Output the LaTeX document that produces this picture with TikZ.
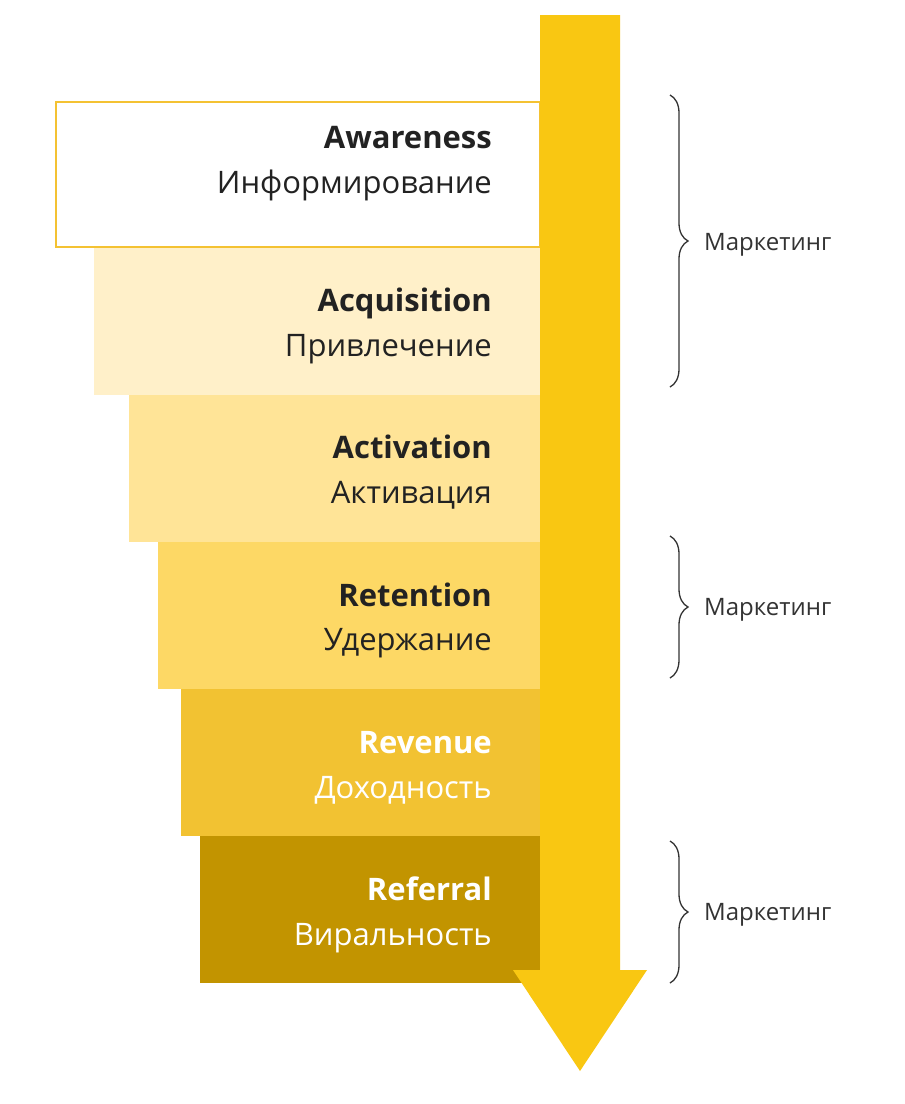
\documentclass[tikz,border=0pt]{standalone}
\usepackage{fontspec}
\setmainfont{Open Sans}
\usetikzlibrary{decorations.pathreplacing}
\definecolor{arrowY}{HTML}{F9C712}
\definecolor{borderY}{HTML}{F4C232}
\definecolor{cA}{HTML}{FFF0C9}
\definecolor{cB}{HTML}{FFE497}
\definecolor{cC}{HTML}{FDD865}
\definecolor{cD}{HTML}{F2C232}
\definecolor{cE}{HTML}{C29400}
\definecolor{txt}{HTML}{222222}
\definecolor{gray3}{HTML}{333333}
\tikzset{
  stage/.style={rectangle, inner sep=0pt, outer sep=0pt, anchor=north west},
  ttl/.style={anchor=base east, inner sep=0pt, font=\fontsize{31}{36}\selectfont\bfseries},
  sub/.style={anchor=base east, inner sep=0pt, font=\fontsize{31}{36}\selectfont},
  bracedeco/.style={draw=gray3, line width=1.3pt, decorate, decoration={brace, amplitude=18pt, aspect=0.5}},
  mlabel/.style={anchor=base west, inner sep=0pt, text=gray3, font=\fontsize{24}{28}\selectfont}
}
\begin{document}
\begin{tikzpicture}[x=1pt,y=-1pt]
\useasboundingbox (0,0) rectangle (905,1104);
\fill[white] (0,0) rectangle (905,1104);
% stages
\node[stage, fill=white, draw=borderY, line width=1.5pt, minimum width=484pt, minimum height=145pt] (s1) at (56,102) {};
\node[stage, fill=cA, minimum width=446pt, minimum height=147pt] (s2) at (94,248) {};
\node[stage, fill=cB, minimum width=411pt, minimum height=147pt] (s3) at (129,395) {};
\node[stage, fill=cC, minimum width=382pt, minimum height=147pt] (s4) at (158,542) {};
\node[stage, fill=cD, minimum width=360pt, minimum height=147pt] (s5) at (181,689) {};
\node[stage, fill=cE, minimum width=340pt, minimum height=147pt] (s6) at (200,836) {};
% arrow
\coordinate (a1) at (540,15);
\coordinate (a2) at (620,15);
\coordinate (a3) at (620,970);
\coordinate (a4) at (647,970);
\coordinate (tip) at (580,1071);
\coordinate (a6) at (513,970);
\coordinate (a7) at (540,970);
\fill[arrowY] (a1) -- (a2) -- (a3) -- (a4) -- (tip) -- (a6) -- (a7) -- cycle;
% texts
\node[ttl, text=txt] (t1) at (492,148) {Awareness};
\node[sub, text=txt] (u1) at (492,193) {Информирование};
\node[ttl, text=txt] (t2) at (492,311) {Acquisition};
\node[sub, text=txt] (u2) at (492,356) {Привлечение};
\node[ttl, text=txt] (t3) at (492,458) {Activation};
\node[sub, text=txt] (u3) at (492,503) {Активация};
\node[ttl, text=txt] (t4) at (492,606) {Retention};
\node[sub, text=txt] (u4) at (492,650) {Удержание};
\node[ttl, text=white] (t5) at (492,753) {Revenue};
\node[sub, text=white] (u5) at (492,798) {Доходность};
\node[ttl, text=white] (t6) at (492,900) {Referral};
\node[sub, text=white] (u6) at (492,945) {Виральность};
% braces
\coordinate (b1t) at (670,95);
\coordinate (b1b) at (670,387);
\coordinate (b2t) at (670,536);
\coordinate (b2b) at (670,678);
\coordinate (b3t) at (670,841);
\coordinate (b3b) at (670,983);
\draw[bracedeco] (b1t) -- (b1b);
\draw[bracedeco] (b2t) -- (b2b);
\draw[bracedeco] (b3t) -- (b3b);
\node[mlabel] (m1) at (704,250) {Маркетинг};
\node[mlabel] (m2) at (704,615) {Маркетинг};
\node[mlabel] (m3) at (704,920) {Маркетинг};
\end{tikzpicture}
\end{document}
